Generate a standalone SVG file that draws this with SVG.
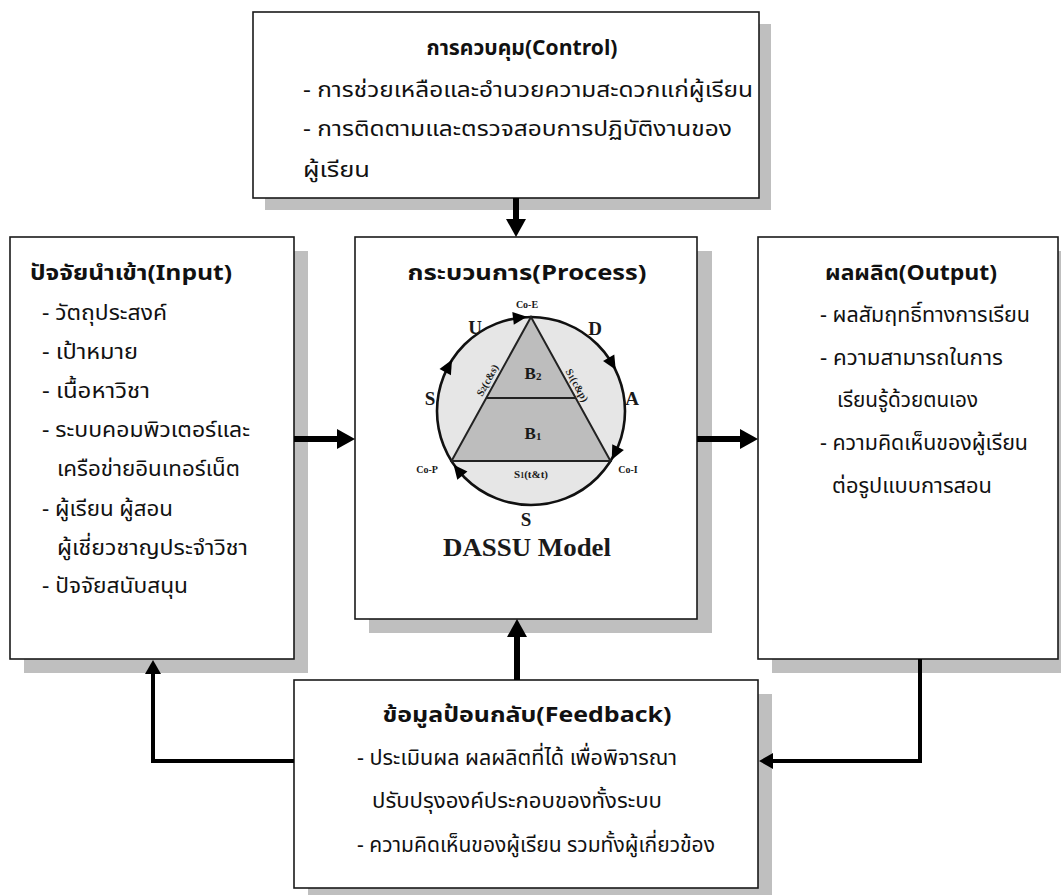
<svg xmlns="http://www.w3.org/2000/svg" width="1061" height="895" viewBox="0 0 1061 895">
<style>
.bg{fill:#ffffff}
.box{fill:#ffffff;stroke:#1a1a1a;stroke-width:1.6}
.shadow{fill:#bfbfbf}
.th{font-family:"Noto Sans Thai","Noto Sans","DejaVu Sans",sans-serif;font-size:22px;fill:#111}
.tt{font-weight:bold;font-size:22px}
.conn{stroke:#000;stroke-width:6;fill:none}
.loop{stroke:#000;stroke-width:4;fill:none;stroke-linejoin:miter}
.lbl{font-family:"Liberation Serif","Times New Roman",serif;font-weight:bold;fill:#1a1a1a;text-anchor:middle}
.circ{fill:#e6e6e6;stroke:#111;stroke-width:2.6}
.tri{fill:#bdbdbd;stroke:#222;stroke-width:2}
.ah{fill:#000}
</style>
<defs>
<marker id="big" viewBox="0 0 18 20" refX="1" refY="10" markerWidth="18" markerHeight="20" markerUnits="userSpaceOnUse" orient="auto">
<path d="M0,0 L18,10 L0,20 Z" fill="#000"/>
</marker>
<marker id="small" viewBox="0 0 14 16" refX="1" refY="8" markerWidth="14" markerHeight="16" markerUnits="userSpaceOnUse" orient="auto">
<path d="M0,0 L14,8 L0,16 Z" fill="#000"/>
</marker>
<path id="cah" d="M7,0 L-7,-6.5 L-7,6.5 Z"/>
</defs>
<rect class="bg" x="0" y="0" width="1061" height="895"/>

<g id="node-control">
<rect class="shadow" x="265" y="24" width="506" height="186"/>
<rect class="box" x="253" y="12" width="506" height="186"/>
<text class="th tt" x="522" y="55" text-anchor="middle" textLength="191" lengthAdjust="spacingAndGlyphs">การควบคุม(Control)</text>
<text class="th" x="303" y="97" textLength="450" lengthAdjust="spacingAndGlyphs">- การช่วยเหลือและอำนวยความสะดวกแก่ผู้เรียน</text>
<text class="th" x="303" y="136" textLength="429" lengthAdjust="spacingAndGlyphs">- การติดตามและตรวจสอบการปฏิบัติงานของ</text>
<text class="th" x="303" y="177" textLength="67" lengthAdjust="spacingAndGlyphs">ผู้เรียน</text>
</g>

<g id="node-input">
<rect class="shadow" x="24" y="251" width="284" height="422"/>
<rect class="box" x="10" y="237" width="284" height="422"/>
<text class="th tt" x="30" y="280" textLength="202" lengthAdjust="spacingAndGlyphs">ปัจจัยนำเข้า(Input)</text>
<text class="th" x="42" y="320" textLength="125" lengthAdjust="spacingAndGlyphs">- วัตถุประสงค์</text>
<text class="th" x="42" y="359" textLength="96" lengthAdjust="spacingAndGlyphs">- เป้าหมาย</text>
<text class="th" x="42" y="398" textLength="108" lengthAdjust="spacingAndGlyphs">- เนื้อหาวิชา</text>
<text class="th" x="42" y="437" textLength="208" lengthAdjust="spacingAndGlyphs">- ระบบคอมพิวเตอร์และ</text>
<text class="th" x="57" y="476" textLength="183" lengthAdjust="spacingAndGlyphs">เครือข่ายอินเทอร์เน็ต</text>
<text class="th" x="42" y="516" textLength="131" lengthAdjust="spacingAndGlyphs">- ผู้เรียน ผู้สอน</text>
<text class="th" x="57" y="555" textLength="191" lengthAdjust="spacingAndGlyphs">ผู้เชี่ยวชาญประจำวิชา</text>
<text class="th" x="42" y="593" textLength="146" lengthAdjust="spacingAndGlyphs">- ปัจจัยสนับสนุน</text>
</g>

<g id="node-process">
<rect class="shadow" x="369" y="251" width="343" height="382"/>
<rect class="box" x="355" y="237" width="342" height="382"/>
<text class="th tt" x="527" y="280" text-anchor="middle" textLength="239" lengthAdjust="spacingAndGlyphs">กระบวนการ(Process)</text>
<g id="dassu">
<circle class="circ" cx="531" cy="411" r="94"/>
<polygon class="tri" points="531,317 451.5,461 610.5,461"/>
<line x1="486" y1="398" x2="576" y2="398" stroke="#222" stroke-width="2"/>
<use href="#cah" class="ah" transform="translate(520,317.6) rotate(-6.7)"/>
<use href="#cah" class="ah" transform="translate(612.2,363.7) rotate(59.8)"/>
<use href="#cah" class="ah" transform="translate(614.9,453.4) rotate(116.8)"/>
<use href="#cah" class="ah" transform="translate(458,470.2) rotate(231)"/>
<use href="#cah" class="ah" transform="translate(448.6,365.9) rotate(-61.3)"/>
<text class="lbl" x="527" y="308" font-size="10">Co-E</text>
<text class="lbl" x="427" y="473" font-size="10">Co-P</text>
<text class="lbl" x="628" y="473" font-size="10">Co-I</text>
<text class="lbl" x="475" y="334" font-size="19">U</text>
<text class="lbl" x="595" y="335" font-size="19">D</text>
<text class="lbl" x="430" y="405" font-size="19">S</text>
<text class="lbl" x="632" y="405" font-size="19">A</text>
<text class="lbl" x="526" y="526" font-size="19">S</text>
<text class="lbl" x="533" y="379" font-size="17">B<tspan font-size="11" dy="1">2</tspan></text>
<text class="lbl" x="533" y="439" font-size="17">B<tspan font-size="11" dy="1">1</tspan></text>
<text class="lbl" x="531" y="478" font-size="11">S<tspan font-size="8">1</tspan>(t&amp;t)</text>
<text class="lbl" font-size="10.5" transform="translate(490.5,382) rotate(-61.2)">S<tspan font-size="8">2</tspan>(c&amp;s)</text>
<text class="lbl" font-size="10.5" transform="translate(574,387) rotate(61.2)">S<tspan font-size="8">1</tspan>(c&amp;p)</text>
<text class="lbl" x="527" y="556" font-size="25" textLength="168" lengthAdjust="spacingAndGlyphs">DASSU Model</text>
</g>
</g>

<g id="node-output">
<rect class="shadow" x="772" y="251" width="300" height="422"/>
<rect class="box" x="758" y="237" width="300" height="422"/>
<text class="th tt" x="825" y="280" textLength="172" lengthAdjust="spacingAndGlyphs">ผลผลิต(Output)</text>
<text class="th" x="820" y="322" textLength="210" lengthAdjust="spacingAndGlyphs">- ผลสัมฤทธิ์ทางการเรียน</text>
<text class="th" x="820" y="365" textLength="183" lengthAdjust="spacingAndGlyphs">- ความสามารถในการ</text>
<text class="th" x="837" y="407" textLength="141" lengthAdjust="spacingAndGlyphs">เรียนรู้ด้วยตนเอง</text>
<text class="th" x="820" y="450" textLength="208" lengthAdjust="spacingAndGlyphs">- ความคิดเห็นของผู้เรียน</text>
<text class="th" x="832" y="493" textLength="160" lengthAdjust="spacingAndGlyphs">ต่อรูปแบบการสอน</text>
</g>

<g id="node-feedback">
<rect class="shadow" x="308" y="694" width="464" height="208"/>
<rect class="box" x="294" y="680" width="464" height="208"/>
<text class="th tt" x="527" y="722" text-anchor="middle" textLength="289" lengthAdjust="spacingAndGlyphs">ข้อมูลป้อนกลับ(Feedback)</text>
<text class="th" x="357" y="765" textLength="320" lengthAdjust="spacingAndGlyphs">- ประเมินผล ผลผลิตที่ได้ เพื่อพิจารณา</text>
<text class="th" x="372" y="808" textLength="290" lengthAdjust="spacingAndGlyphs">ปรับปรุงองค์ประกอบของทั้งระบบ</text>
<text class="th" x="357" y="852" textLength="358" lengthAdjust="spacingAndGlyphs">- ความคิดเห็นของผู้เรียน รวมทั้งผู้เกี่ยวข้อง</text>
</g>

<g id="connectors">
<line class="conn" x1="516" y1="198" x2="516" y2="220" marker-end="url(#big)"/>
<line class="conn" x1="294" y1="439" x2="338" y2="439" marker-end="url(#big)"/>
<line class="conn" x1="697" y1="439" x2="741" y2="439" marker-end="url(#big)"/>
<line class="conn" x1="517" y1="680" x2="517" y2="636" marker-end="url(#big)"/>
<polyline class="loop" points="294,761 153,761 153,673" marker-end="url(#small)"/>
<polyline class="loop" points="920,659 920,761 772,761" marker-end="url(#small)"/>
</g>
</svg>
